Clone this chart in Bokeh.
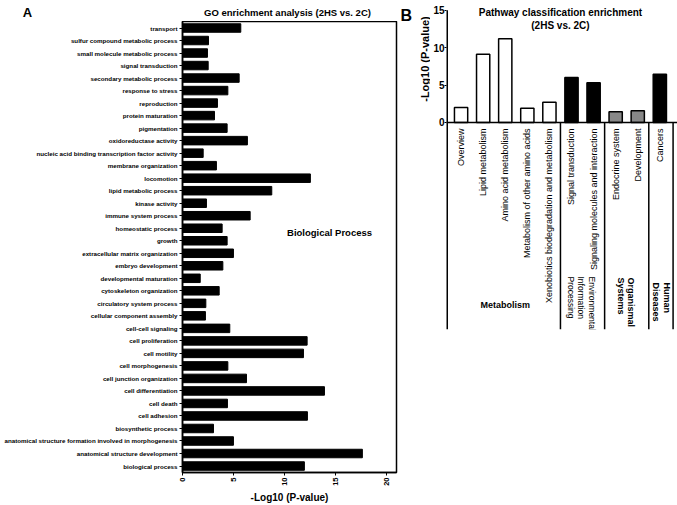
import math
from bokeh.plotting import figure
from bokeh.models import Label, Span, FixedTicker, Range1d
from bokeh.layouts import row, column
from bokeh.embed import file_html
from bokeh.resources import INLINE
from bokeh.core.properties import value

FONT = "Liberation Sans"

# ---------------- Panel A data ----------------
go_terms = [
    "transport", "sulfur compound metabolic process", "small molecule metabolic process",
    "signal transduction", "secondary metabolic process", "response to stress",
    "reproduction", "protein maturation", "pigmentation", "oxidoreductase activity",
    "nucleic acid binding transcription factor activity", "membrane organization",
    "locomotion", "lipid metabolic process", "kinase activity", "immune system process",
    "homeostatic process", "growth", "extracellular matrix organization",
    "embryo development", "developmental maturation", "cytoskeleton organization",
    "circulatory system process", "cellular component assembly", "cell-cell signaling",
    "cell proliferation", "cell motility", "cell morphogenesis",
    "cell junction organization", "cell differentiation", "cell death", "cell adhesion",
    "biosynthetic process", "anatomical structure formation involved in morphogenesis",
    "anatomical structure development", "biological process",
]
go_values = [
    5.72, 2.55, 2.45, 2.52, 5.56, 4.45, 3.43, 3.14, 4.38, 6.37, 2.03, 3.33,
    12.55, 8.76, 2.35, 6.64, 3.89, 4.38, 5.0, 3.96, 1.74, 3.6, 2.29, 2.25,
    4.64, 12.23, 11.87, 4.45, 6.28, 13.93, 4.41, 12.26, 3.04, 5.0, 17.65, 11.96,
]
go_xticks = [0, 5, 10, 15, 20]

# ---------------- Panel B data ----------------
pathways = [
    "Overview", "Lipid metabolism", "Amino acid metabolism",
    "Metabolism of other amino acids", "Xenobiotics biodegradation and metabolism",
    "Signal transduction", "Signaling molecules and interaction",
    "Endocrine system", "Development", "Cancers",
]
pathway_values = [2.0, 9.1, 11.2, 1.9, 2.7, 6.0, 5.3, 1.43, 1.57, 6.44]
pathway_colors = ["white"] * 5 + ["black"] * 2 + ["#888888"] * 2 + ["black"]
path_yticks = [0, 5, 10, 15]


def style_axis(ax, size):
    ax.major_label_text_font = FONT
    ax.major_label_text_font_style = "bold"
    ax.major_label_text_font_size = size
    ax.major_label_text_color = "black"
    ax.axis_line_color = "black"
    ax.axis_line_width = 1.5
    ax.major_tick_line_color = "black"
    ax.major_tick_in = 0
    ax.minor_tick_out = 0
    ax.minor_tick_in = 0
    ax.axis_label_text_color = "black"


def blank(p):
    p.outline_line_color = None
    p.xgrid.visible = False
    p.ygrid.visible = False


# =============== Panel A header ===============
HEAD_H = 21
pA_head = figure(width=400, height=HEAD_H, title=None, output_backend="svg",
                 toolbar_location=None, x_axis_type=None, y_axis_type=None,
                 x_range=Range1d(0, 400), y_range=Range1d(HEAD_H, 0), min_border=0)
pA_head.frame_align = False
blank(pA_head)
pA_head.text(x=[27], y=[11.7], text=["A"], text_align="center",
             text_baseline="middle", text_font=value(FONT), text_color="black",
             text_font_style="bold", text_font_size="13px")
pA_head.text(x=[287], y=[11.5], text=["GO enrichment analysis (2HS vs. 2C)"],
             text_align="center", text_baseline="middle", text_font=value(FONT),
             text_color="black", text_font_style="bold", text_font_size="9.5px")

# =============== Panel A main ===============
n = len(go_terms)
ypos = [n - 1 - i for i in range(n)]
pA = figure(width=400, height=505 - HEAD_H, title=None, output_backend="svg",
            toolbar_location=None,
            x_range=Range1d(0, 21), y_range=Range1d(-0.517, 35.52),
            min_border=0, min_border_left=182, min_border_right=4,
            min_border_top=0, min_border_bottom=31)
pA.frame_align = False
pA.hbar(y=ypos, right=go_values, left=0, height=0.68, fill_color="black",
        line_color="black")
pA.xgrid.visible = False
pA.ygrid.visible = False
pA.outline_line_color = "black"
pA.outline_line_width = 1.5

ya = pA.yaxis[0]
style_axis(ya, "6.2px")
ya.ticker = FixedTicker(ticks=ypos)
ya.major_label_overrides = {y: t for y, t in zip(ypos, go_terms)}
ya.major_tick_out = 3
ya.major_label_standoff = 2

xa = pA.xaxis[0]
style_axis(xa, "7.5px")
xa.ticker = FixedTicker(ticks=go_xticks)
xa.major_label_orientation = math.pi / 2
xa.major_tick_out = 3
xa.major_label_standoff = 2
xa.axis_label = "-Log10 (P-value)"
xa.axis_label_text_font = FONT
xa.axis_label_text_font_style = "bold"
xa.axis_label_text_font_size = "10px"
xa.axis_label_standoff = 3

pA.add_layout(Label(x=10.26, y=18.7, text="Biological Process", text_align="left",
                    text_baseline="middle", text_font=FONT, text_color="black",
                    text_font_style="bold", text_font_size="9.5px"))

# =============== Panel B left strip (letter + axis title) ===============
pB_left = figure(width=30, height=331, title=None, output_backend="svg",
                 toolbar_location=None, x_axis_type=None, y_axis_type=None,
                 x_range=Range1d(400, 430), y_range=Range1d(331, 0), min_border=0)
pB_left.frame_align = False
blank(pB_left)
pB_left.add_layout(Label(x=400, y=15, text="B", text_align="left",
                         text_baseline="alphabetic", text_font=FONT,
                         text_color="black", text_font_style="bold",
                         text_font_size="16px"))
pB_left.add_layout(Label(x=424.3, y=58.5, text="-Log10 (P-value)", angle=math.pi / 2,
                         text_align="center", text_baseline="middle", text_font=FONT,
                         text_color="black", text_font_style="bold",
                         text_font_size="11px"))

# =============== Panel B main ===============
m = len(pathways)
xb = list(range(m))
y_lo, y_hi = -27.65, 15.36
pB = figure(width=247, height=331, title=None, output_backend="svg",
            toolbar_location=None, x_axis_type=None,
            x_range=Range1d(-0.66, 9.80), y_range=Range1d(y_lo, y_hi),
            min_border=0, min_border_left=14, min_border_top=7, min_border_bottom=2)
pB.frame_align = False
pB.vbar(x=xb, top=pathway_values, bottom=0, width=0.6, fill_color=pathway_colors,
        line_color="black", line_width=1.5)
blank(pB)

yb = pB.yaxis[0]
style_axis(yb, "10px")
yb.ticker = FixedTicker(ticks=path_yticks)
yb.major_tick_out = 2
yb.major_label_standoff = 0
yb.axis_line_color = None

# axis line running from the top tick down through the label area
pB.segment(x0=[-0.66], x1=[-0.66], y0=[y_lo], y1=[max(path_yticks)],
           line_color="black", line_width=3)
# baseline and group separators
pB.add_layout(Span(location=0, dimension="width", line_color="black", line_width=1.5))
sep_x = [4.5, 6.5, 8.5, 9.6]
pB.segment(x0=sep_x, x1=sep_x, y0=[0] * 4, y1=[y_lo] * 4, line_color="black",
           line_width=1.5)

# category labels
pB.text(x=xb, y=[-0.8] * m, text=pathways, angle=math.pi / 2, text_align="right",
        text_baseline="middle", text_font=value(FONT), text_font_size="9px",
        text_color="black")

# group labels
pB.text(x=[2], y=[-24.44], text=["Metabolism"], text_align="center",
        text_baseline="middle", text_font=value(FONT), text_font_style="bold",
        text_font_size="9px", text_color="black")
pB.text(x=[5.94, 5.45, 5.0], y=[-20.57] * 3,
        text=["Environmental", "Information", "Processing"], angle=-math.pi / 2,
        text_align="left", text_baseline="middle", text_font=value(FONT),
        text_font_size="8.5px", text_color="black")
pB.text(x=[7.69, 7.24], y=[-20.7] * 2, text=["Organismal", "Systems"],
        angle=-math.pi / 2, text_align="left", text_baseline="middle",
        text_font=value(FONT), text_font_style="bold", text_font_size="9px",
        text_color="black")
pB.text(x=[9.31, 8.82], y=[-21.37] * 2, text=["Human", "Diseases"],
        angle=-math.pi / 2, text_align="left", text_baseline="middle",
        text_font=value(FONT), text_font_style="bold", text_font_size="9px",
        text_color="black")

pB.add_layout(Label(x=4.5, y=14.63, text="Pathway classification enrichment",
                    text_align="center", text_baseline="middle", text_font=FONT,
                    text_color="black", text_font_style="bold", text_font_size="10px"))
pB.add_layout(Label(x=4.5, y=13.0, text="(2HS vs. 2C)",
                    text_align="center", text_baseline="middle", text_font=FONT,
                    text_color="black", text_font_style="bold", text_font_size="10px"))

layout = row(column(pA_head, pA), pB_left, pB)
open("out.html", "w").write(file_html(layout, INLINE))
